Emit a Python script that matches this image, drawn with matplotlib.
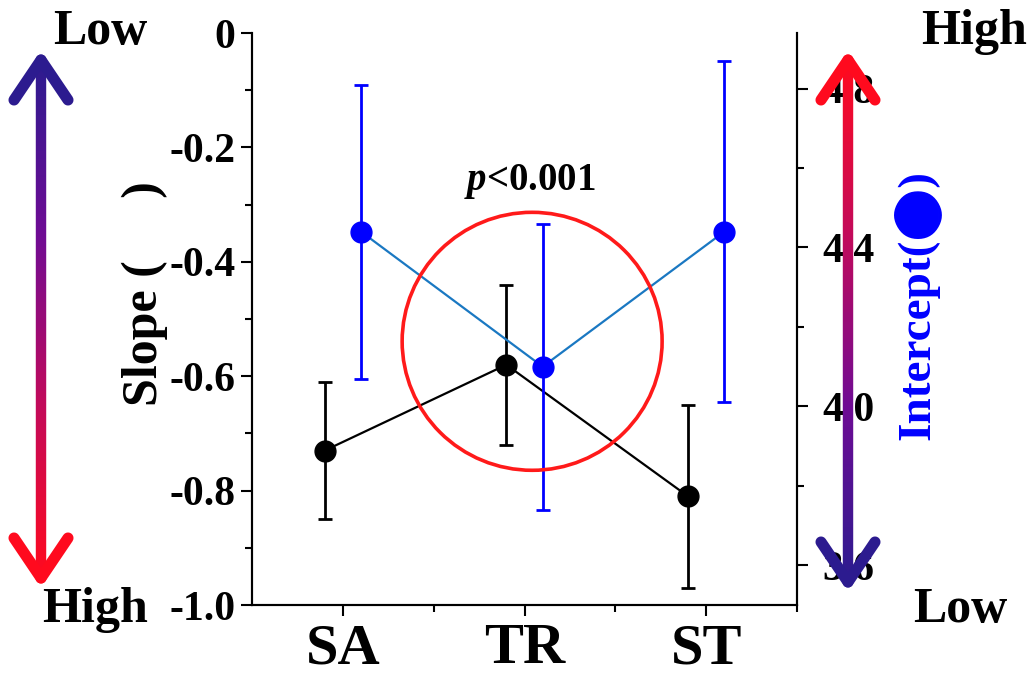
import matplotlib
matplotlib.use("Agg")
import matplotlib.pyplot as plt
import numpy as np
from matplotlib.collections import LineCollection
from matplotlib.colors import LinearSegmentedColormap
from matplotlib.patches import Ellipse

plt.rcParams['font.family'] = ['Liberation Serif', 'DejaVu Sans']
plt.rcParams['font.weight'] = 'bold'
plt.rcParams['axes.labelweight'] = 'bold'
plt.rcParams['mathtext.fontset'] = 'custom'
plt.rcParams['mathtext.it'] = 'Liberation Serif:italic:bold'
plt.rcParams['mathtext.rm'] = 'Liberation Serif:bold'

# data
groups = ["SA", "TR", "ST"]
slope = [-0.73, -0.58, -0.81]
slope_err = [0.12, 0.14, 0.16]
intercept = [4.44, 4.10, 4.44]
intercept_err = [0.37, 0.36, 0.43]

x = np.arange(1, len(groups) + 1)

fig = plt.figure(figsize=(10.31, 6.82), dpi=100)
ax = fig.add_axes([252 / 1031, 77 / 682, 545 / 1031, 572 / 682])
ax2 = ax.twinx()

ax.errorbar(x - 0.1, slope, yerr=slope_err, color='black', lw=1.6,
            elinewidth=2, capsize=5, capthick=2, marker='o', ms=15, zorder=3)
ax2.plot(x + 0.1, intercept, color='#1a78c2', lw=1.6, zorder=2)
ax2.errorbar(x + 0.1, intercept, yerr=intercept_err, fmt='o', color='#0000ff',
             elinewidth=2, capsize=5, capthick=2, ms=15, zorder=3)

ax.set_xlim(0.5, 3.5)
ax.set_ylim(-1.0, 0)
ax2.set_ylim(3.5, 4.94)
ax.set_xticks(x)
ax.set_xticklabels(groups, fontsize=42)
ax.set_xticks([1.5, 2.5, 3.5], minor=True)
ax.set_yticks([0, -0.2, -0.4, -0.6, -0.8, -1.0])
ax.set_yticklabels(['0', '-0.2', '-0.4', '-0.6', '-0.8', '-1.0'], fontsize=30)
ax.set_yticks(np.arange(-0.9, 0, 0.2), minor=True)
ax2.set_yticks([3.6, 4.0, 4.4, 4.8])
ax2.set_yticklabels(['3.6', '4.0', '4.4', '4.8'], fontsize=30)
ax2.set_yticks([3.8, 4.2, 4.6], minor=True)

for a in (ax, ax2):
    a.spines['top'].set_visible(False)
    for s in a.spines.values():
        s.set_linewidth(1.5)
    a.tick_params(which='major', length=8, width=1.5)
    a.tick_params(which='minor', length=5, width=1.5)
ax.tick_params(axis='y', pad=4)
ax.tick_params(axis='x', pad=5)
ax2.tick_params(axis='y', pad=10)

ax.set_ylabel('Slope (     )', fontsize=36, fontweight='bold')
ax.yaxis.set_label_coords(-0.155, 0.545)
ax2.set_ylabel('Intercept(\u2b24)', fontsize=34, color='#0000ff',
               fontweight='bold')
ax2.yaxis.set_label_coords(1.175, 0.525)

ax.text(0.51, 0.74, r'$p$<0.001', transform=ax.transAxes, fontsize=28,
        ha='center', va='center')
ax2.add_patch(Ellipse((0.514, 0.461), 0.477, 0.451, transform=ax2.transAxes,
                      fill=False, ec='#ff1a1a', lw=2.6, zorder=5))

# overlay for gradient arrows and labels
ov = fig.add_axes([0, 0, 1, 1], zorder=10)
ov.set_xlim(0, 1031)
ov.set_ylim(682, 0)
ov.axis('off')
ov.patch.set_alpha(0)

cmap = LinearSegmentedColormap.from_list('arr', ['#2c1b8f', '#6e0b94', '#c20a5a', '#ff0a1e'])


def grad_arrow(xc, y0, y1, flip):
    ys = np.linspace(y0, y1, 200)
    segs = [[(xc, ys[i]), (xc, ys[i + 1])] for i in range(len(ys) - 1)]
    t = np.linspace(0, 1, len(segs))
    if flip:
        t = 1 - t
    ov.add_collection(LineCollection(segs, colors=cmap(t), linewidths=7.5,
                                     capstyle='butt'))
    ctop = cmap(1.0 if flip else 0.0)
    cbot = cmap(0.0 if flip else 1.0)
    for tip, dy, c in ((y0, 40, ctop), (y1, -40, cbot)):
        for dx in (-27, 27):
            ov.plot([xc, xc + dx], [tip, tip + dy], color=c, lw=8,
                    solid_capstyle='round')


grad_arrow(41, 60, 578, False)
grad_arrow(848, 60, 582, True)

ov.text(100, 32, 'Low', fontsize=36, ha='center', va='center')
ov.text(95, 610, 'High', fontsize=36, ha='center', va='center')
ov.text(974, 32, 'High', fontsize=36, ha='center', va='center')
ov.text(960, 610, 'Low', fontsize=36, ha='center', va='center')

fig.savefig('out.png', dpi=100)
